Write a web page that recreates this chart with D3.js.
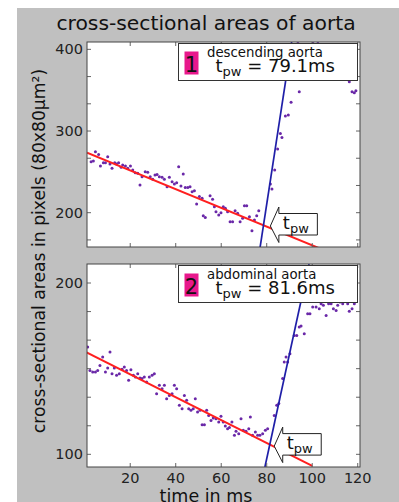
<!DOCTYPE html>
<html>
<head>
<meta charset="utf-8">
<script src="https://cdn.jsdelivr.net/npm/d3@7"></script>
<style>
  body { margin: 0; background: #fff; }
  svg { display: block; font-family: "DejaVu Sans", Verdana, sans-serif; }
</style>
</head>
<body>
<svg id="chart" width="399" height="502"></svg>
<script>
// ---- data ----
const timeTicks = [20, 40, 60, 80, 100, 120];

// descending aorta (panel 1)
const descTime = [2.8, 3.8, 4.7, 6.1, 6.9, 8.2, 9.1, 10.1, 11.1, 12.0, 13.2, 14.0, 14.9, 16.0, 16.7, 17.9, 18.9, 20.1, 21.1, 22.2,
  23.3, 24.3, 25.2, 26.6, 27.7, 28.8, 29.9, 30.9, 31.8, 32.8, 34.0, 35.0, 36.2, 37.2, 38.4, 39.4, 40.4, 41.3, 42.3, 43.3,
  44.2, 45.3, 46.3, 47.2, 48.2, 49.2, 50.4, 51.6, 52.1, 53.0, 55.1, 56.2, 57.0, 57.7, 58.9, 59.9, 60.9, 61.8, 62.8, 63.9,
  65.0, 66.1, 67.2, 68.3, 69.4, 70.2, 71.2, 72.4, 73.5, 74.6, 75.6, 76.5, 81.6, 82.3, 83.5, 84.8, 86.0, 86.7, 88.2, 89.5,
  90.7, 93.7, 94.3, 100.3, 102.5, 116.3, 117.5, 118.5, 119.2];
const descArea = [262.5, 263.3, 274.7, 271.4, 257.2, 261.3, 261.3, 268.6, 259.6, 254.3, 261.3, 259.6, 261.3, 255.5, 258.4, 257.2, 254.3, 257.2, 252.3, 249.0,
  248.2, 233.9, 244.1, 250.2, 249.4, 244.1, 240.8, 246.1, 246.9, 244.1, 243.3, 240.8, 231.9, 243.3, 238.0, 235.1, 236.8, 256.4, 232.7, 247.4,
  230.7, 230.7, 231.9, 225.8, 227.0, 210.7, 219.7, 217.6, 196.4, 194.0, 220.9, 216.4, 207.4, 201.3, 197.2, 200.0, 207.4, 205.4, 201.3, 189.0,
  189.0, 202.5, 199.3, 189.0, 193.1, 208.6, 208.6, 195.1, 178.0, 191.0, 196.4, 202.5, 235.1, 229.0, 252.2, 278.0, 297.1, 292.2, 318.4, 319.6,
  335.1, 409.5, 348.2, 409.5, 409.5, 360.4, 348.1, 346.9, 349.4];
const descBaseFit = [[1, 273.5], [103, 156.6]];
const descRiseFit = [[77.0, 156.0], [91.0, 410.0]];

// abdominal aorta (panel 2)
const abdTime = [1.3, 2.3, 3.5, 4.7, 5.7, 6.7, 7.9, 9.1, 10.1, 11.1, 12.0, 13.0, 14.0, 15.2, 16.4, 17.4, 18.4, 19.3, 20.3, 21.4,
  22.3, 23.3, 24.3, 25.2, 26.2, 27.2, 28.4, 29.6, 30.6, 31.6, 32.8, 34.0, 35.0, 36.0, 37.2, 38.4, 39.4, 40.4, 41.6, 42.8,
  43.8, 44.8, 45.7, 46.7, 47.7, 48.6, 49.6, 50.7, 51.6, 52.6, 53.6, 54.5, 55.5, 56.5, 57.7, 58.9, 59.9, 60.9, 61.8, 62.8,
  63.6, 64.7, 65.8, 66.5, 67.7, 68.7, 69.7, 70.9, 72.1, 72.8, 73.8, 75.0, 76.0, 77.0, 78.2, 79.4, 80.4, 83.3, 84.4, 85.3,
  87.0, 87.7, 88.5, 89.2, 90.2, 92.1, 93.2, 94.3, 95.1, 96.5, 98.0, 99.0, 100.2, 101.7, 103.1, 103.9, 104.9, 106.1, 107.2, 108.3,
  109.3, 110.5, 111.2, 112.2, 113.4, 114.6, 115.6, 116.3, 117.5, 118.5];
const abdArea = [162.6, 149.0, 148.0, 148.0, 149.0, 151.9, 156.8, 148.0, 150.4, 159.7, 147.1, 150.4, 146.1, 147.1, 149.6, 151.0, 149.0, 143.2, 149.4, 146.1,
  145.1, 147.1, 144.5, 144.2, 145.1, 142.2, 145.1, 146.1, 147.1, 135.4, 140.3, 138.3, 140.3, 132.5, 134.4, 135.4, 140.3, 138.3, 128.6, 126.6,
  134.4, 131.5, 126.6, 125.7, 126.6, 132.5, 124.7, 125.7, 117.3, 117.3, 125.7, 122.7, 119.8, 121.2, 120.8, 118.9, 122.2, 118.9, 116.5, 115.0,
  115.7, 118.9, 111.1, 113.4, 112.0, 120.8, 114.0, 113.4, 115.0, 121.8, 111.1, 113.0, 111.1, 111.1, 112.0, 114.0, 115.0, 122.7, 128.6, 129.6,
  144.2, 153.9, 156.8, 153.9, 158.7, 169.4, 169.4, 174.3, 174.9, 170.4, 182.1, 182.1, 186.0, 186.0, 185.0, 187.9, 187.0, 181.1, 187.9, 187.9,
  185.0, 184.0, 187.0, 188.9, 187.9, 190.9, 187.9, 183.5, 185.0, 187.9];
const abdBaseFit = [[0.6, 159.7], [100, 93.2]];
const abdRiseFit = [[79.2, 92.6], [98.6, 211.1]];

const panels = [
  { id: 1, name: "descending aorta", tpw: "79.1", time: descTime, area: descArea,
    base: descBaseFit, rise: descRiseFit, domain: [158, 409], top: 42, bottom: 247,
    ticks: [500 / 3, 200, 700 / 3, 800 / 3, 300, 1000 / 3, 1100 / 3, 400], labels: [200, 300, 400],
    arrowAt: [81.6, 183.7], showX: false },
  { id: 2, name: "abdominal aorta", tpw: "81.6", time: abdTime, area: abdArea,
    base: abdBaseFit, rise: abdRiseFit, domain: [92.6, 211.1], top: 264, bottom: 467,
    ticks: [100, 700 / 6, 400 / 3, 150, 500 / 3, 1100 / 6, 200], labels: [100, 200],
    arrowAt: [83.3, 104.8], showX: true }
];

const svg = d3.select("#chart");
const left = 87, right = 360;

svg.append("rect").attr("x", 17).attr("y", 8).attr("width", 382).attr("height", 494).attr("fill", "#c0c0c0");

svg.append("text").attr("x", 206).attr("y", 30).attr("text-anchor", "middle")
  .attr("font-size", 20.3).attr("fill", "#111").text("cross-sectional areas of aorta");

svg.append("text").attr("transform", "translate(45,251) rotate(-90)").attr("text-anchor", "middle")
  .attr("font-size", 17.2).attr("fill", "#111").text("cross-sectional areas in pixels (80x80µm²)");

svg.append("text").attr("x", 206).attr("y", 502).attr("text-anchor", "middle")
  .attr("font-size", 17.5).attr("fill", "#111").text("time in ms");

const x = d3.scaleLinear().domain([1, 121]).range([left, right]);

function tpwText(sel, xPos, yPos, big, small, rest) {
  const t = sel.append("text").attr("x", xPos).attr("y", yPos).attr("font-size", big).attr("fill", "#111");
  t.append("tspan").text("t");
  t.append("tspan").attr("font-size", small).attr("dy", 4).text("pw");
  if (rest) t.append("tspan").attr("dy", -4).text(rest);
}

panels.forEach(p => {
  const y = d3.scaleLinear().domain(p.domain).range([p.bottom, p.top]);
  const g = svg.append("g");

  g.append("rect").attr("x", left).attr("y", p.top).attr("width", right - left).attr("height", p.bottom - p.top)
    .attr("fill", "#fff");

  const clipId = "clip" + p.id;
  svg.append("clipPath").attr("id", clipId).append("rect")
    .attr("x", left).attr("y", p.top).attr("width", right - left).attr("height", p.bottom - p.top);

  const plot = g.append("g").attr("clip-path", `url(#${clipId})`);

  // inward ticks on all four sides
  const tickLen = 4;
  const ax = g.append("g").attr("stroke", "#666").attr("stroke-width", 1);
  timeTicks.forEach(t => {
    ax.append("line").attr("x1", x(t)).attr("x2", x(t)).attr("y1", p.bottom).attr("y2", p.bottom - tickLen);
    ax.append("line").attr("x1", x(t)).attr("x2", x(t)).attr("y1", p.top).attr("y2", p.top + tickLen);
  });
  p.ticks.forEach(v => {
    ax.append("line").attr("x1", left).attr("x2", left + tickLen).attr("y1", y(v)).attr("y2", y(v));
    ax.append("line").attr("x1", right).attr("x2", right - tickLen).attr("y1", y(v)).attr("y2", y(v));
  });

  g.selectAll(".ylab").data(p.labels).join("text")
    .attr("x", left - 4).attr("y", d => y(d) + 5).attr("text-anchor", "end")
    .attr("font-size", 14.5).attr("fill", "#222").text(d => d);

  if (p.showX) {
    g.selectAll(".xlab").data(timeTicks).join("text")
      .attr("x", d => x(d)).attr("y", p.bottom + 16).attr("text-anchor", "middle")
      .attr("font-size", 14.5).attr("fill", "#222").text(d => d);
  }

  const line = d3.line().x(d => x(d[0])).y(d => y(d[1]));

  plot.selectAll("circle").data(d3.zip(p.time, p.area)).join("circle")
    .attr("cx", d => x(d[0])).attr("cy", d => y(d[1])).attr("r", 1.5).attr("fill", "#6a28a8");

  plot.append("path").attr("d", line(p.base)).attr("stroke", "#ff1f1f").attr("stroke-width", 2).attr("fill", "none");
  plot.append("path").attr("d", line(p.rise)).attr("stroke", "#1f1fa8").attr("stroke-width", 1.7).attr("fill", "none");

  // legend box
  const lx = 178.5, ly = p.top + 1.5;
  g.append("rect").attr("x", lx).attr("y", ly).attr("width", 179).attr("height", 37)
    .attr("fill", "#fff").attr("stroke", "#333").attr("stroke-width", 1);
  g.append("rect").attr("x", lx + 6).attr("y", ly + 8).attr("width", 14).attr("height", 23).attr("fill", "#e8188c");
  g.append("text").attr("x", lx + 13).attr("y", ly + 28).attr("text-anchor", "middle")
    .attr("font-size", 21).attr("fill", "#111").text(p.id);
  g.append("text").attr("x", lx + 28.5).attr("y", ly + 13.5).attr("font-size", 13.3).attr("fill", "#111").text(p.name);
  tpwText(g, lx + 37, ly + 28.5, 18, 13, " = " + p.tpw + "ms");

  // callout arrow pointing at the intersection
  const tx = x(p.arrowAt[0]), ty = y(p.arrowAt[1]);
  const pts = [[tx, ty], [tx + 8.5, ty - 19], [tx + 8.5, ty - 12.5], [tx + 47, ty - 12.5],
    [tx + 47, ty + 9], [tx + 8.5, ty + 9], [tx + 8.5, ty + 16.5]];
  g.append("path").attr("d", d3.line()(pts) + "Z").attr("fill", "#fff").attr("stroke", "#222").attr("stroke-width", 1);
  tpwText(g, tx + 12.5, ty + 2.5, 18, 13, null);

  g.append("rect").attr("x", left).attr("y", p.top).attr("width", right - left).attr("height", p.bottom - p.top)
    .attr("fill", "none").attr("stroke", "#444").attr("stroke-width", 1);
});
</script>
</body>
</html>
